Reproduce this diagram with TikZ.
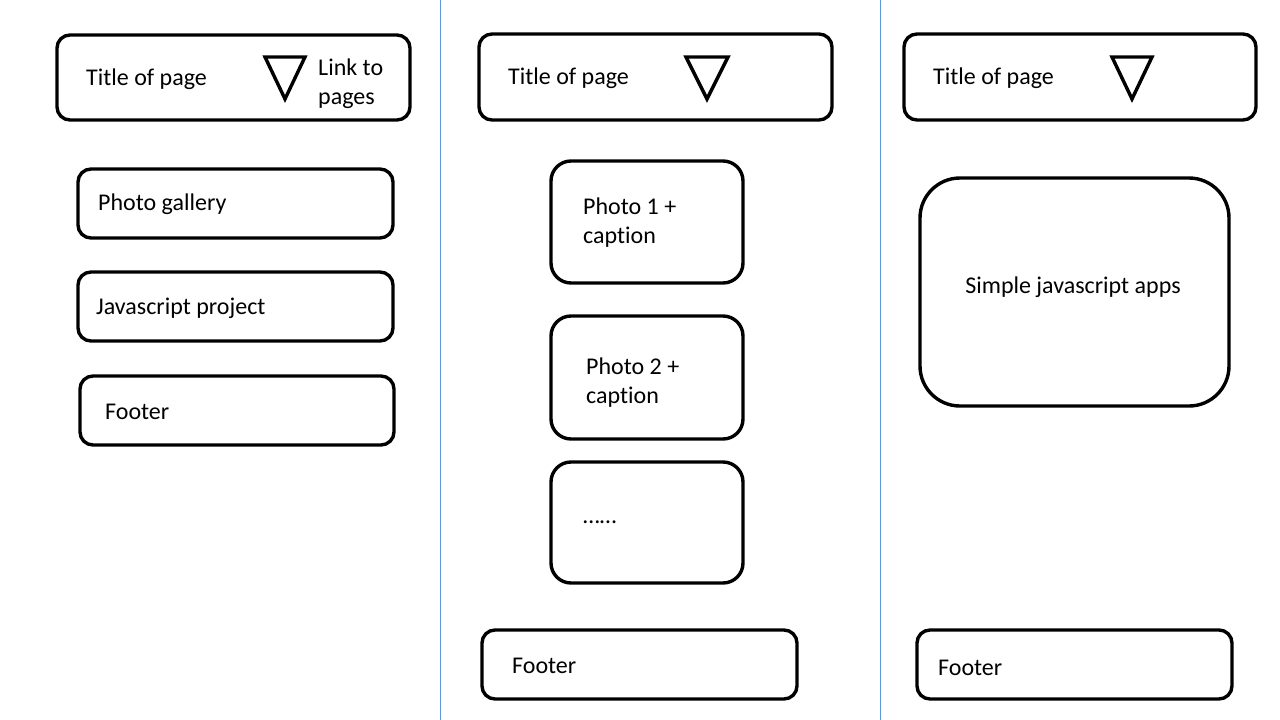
\documentclass[tikz,border=0pt]{standalone}
\usepackage{fontspec}
\setmainfont[Ligatures={NoCommon}]{Carlito}
\begin{document}
\begin{tikzpicture}[x=1pt,y=-1pt,
  box/.style={draw=black,line width=3.4pt,rounded corners=#1,inner sep=0pt,fill=white},
  box/.default=13pt,
  lbl/.style={anchor=west,inner sep=0pt,font=\fontsize{24}{29}\selectfont,align=left},
  sep/.style={draw=sepblue,line width=1pt},
  tri/.style={draw=black,line width=3.4pt,line join=miter}]
\definecolor{sepblue}{HTML}{5B9BD5}
\useasboundingbox[fill=white] (0,0) rectangle (1280,720);
% separators
\coordinate (s1t) at (440,0); \coordinate (s1b) at (440,720);
\coordinate (s2t) at (880,0); \coordinate (s2b) at (880,720);
\draw[sep] (s1t) -- (s1b);
\draw[sep] (s2t) -- (s2b);
% ---- column 1
\node[box, minimum width=353pt, minimum height=85pt] (h1) at (233.5,77.5) {};
\node[lbl] (h1t) at (86,79) {Title of page};
\draw[tri] (265,57) -- (305,57) -- (285,99) -- cycle;
\node[lbl] (h1l) at (318,83.5) {Link to\\pages};
\node[box, minimum width=315pt, minimum height=69pt] (g1) at (235.5,203.5) {};
\node[lbl] (g1t) at (98,204) {Photo gallery};
\node[box, minimum width=315pt, minimum height=69pt] (j1) at (235.5,306.5) {};
\node[lbl] (j1t) at (96,308) {Javascript project};
\node[box, minimum width=314pt, minimum height=69pt] (f1) at (237,410.5) {};
\node[lbl] (f1t) at (105,412) {Footer};
% ---- column 2
\node[box, minimum width=353pt, minimum height=86pt] (h2) at (655.5,77) {};
\node[lbl] (h2t) at (508,78) {Title of page};
\draw[tri] (686,57) -- (728,57) -- (707,99) -- cycle;
\node[box=20pt, minimum width=192pt, minimum height=122pt] (p1) at (647,222) {};
\node[lbl] (p1t) at (583,222.5) {Photo 1 +\\caption};
\node[box=20pt, minimum width=192pt, minimum height=123pt] (p2) at (647,377.5) {};
\node[lbl] (p2t) at (586,382.5) {Photo 2 +\\caption};
\node[box=20pt, minimum width=192pt, minimum height=121pt] (p3) at (647,522.5) {};
\node[lbl] (p3t) at (583,522) {……};
\node[box, minimum width=315pt, minimum height=69pt] (f2) at (639.5,664.5) {};
\node[lbl] (f2t) at (512,666) {Footer};
% ---- column 3
\node[box, minimum width=352pt, minimum height=86pt] (h3) at (1080,77) {};
\node[lbl] (h3t) at (933,78) {Title of page};
\draw[tri] (1112,57) -- (1152,57) -- (1132,99) -- cycle;
\node[box=40pt, minimum width=309pt, minimum height=228pt] (a3) at (1074.5,292) {};
\node[lbl,anchor=center] (a3t) at (1073,287) {Simple javascript apps};
\node[box, minimum width=315pt, minimum height=69pt] (f3) at (1074.5,664.5) {};
\node[lbl] (f3t) at (938,668) {Footer};
\end{tikzpicture}
\end{document}
